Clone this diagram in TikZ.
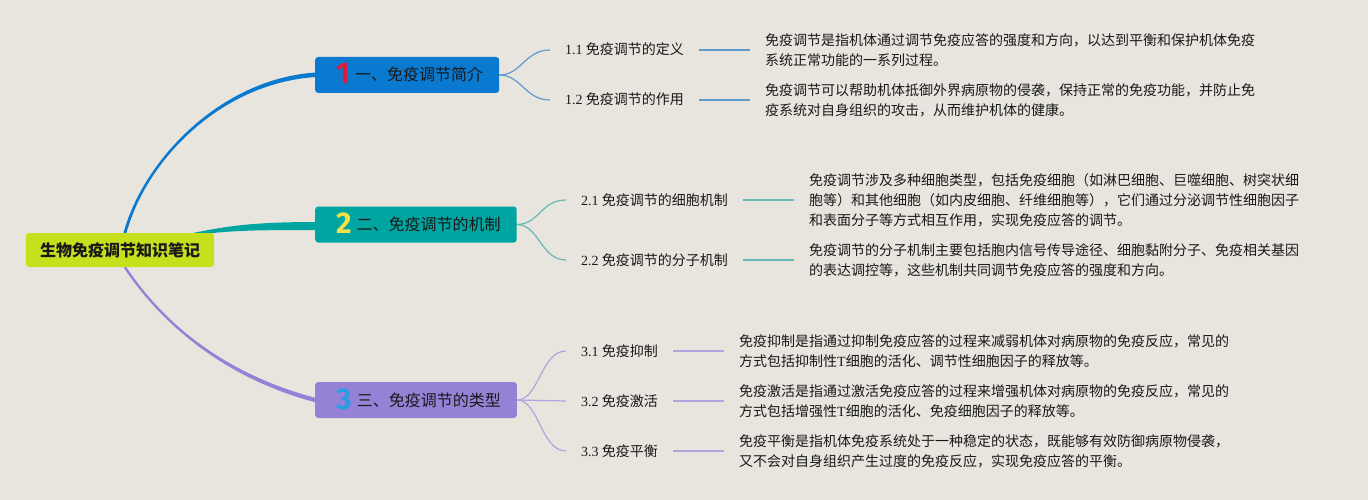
\documentclass[tikz,border=0pt]{standalone}
\usepackage{fontspec}
\setmainfont{Liberation Serif}
\newfontfamily\cjk{Noto Sans CJK SC}
\newfontfamily\numfont{Fira Sans}
\usetikzlibrary{positioning, calc}
\definecolor{paper}{RGB}{232,229,222}
\definecolor{rootgreen}{RGB}{198,224,30}
\definecolor{topicblue}{RGB}{10,122,208}
\definecolor{topicteal}{RGB}{0,164,160}
\definecolor{topicpurple}{RGB}{149,130,214}
\definecolor{subblue}{RGB}{95,155,205}
\definecolor{subteal}{RGB}{100,185,180}
\definecolor{subpurple}{RGB}{175,165,220}
\definecolor{numred}{RGB}{216,30,60}
\definecolor{numyellow}{RGB}{242,226,74}
\definecolor{numblue}{RGB}{40,158,226}
\definecolor{ink}{RGB}{25,25,25}
\pgfdeclarelayer{back}
\pgfdeclarelayer{lines}
\pgfsetlayers{back,lines,main}
\newcommand\bignum[2]{\hspace{5pt}\raisebox{-3pt}{\numfont\bfseries\fontsize{30}{30}\selectfont\color{#1}#2}\hspace{5pt}}

\begin{document}
\begin{tikzpicture}[
    x=1pt, y=-1pt,
    rootbox/.style={rectangle, rounded corners=3pt, fill=rootgreen, inner xsep=14pt, minimum height=34pt, text=ink, font=\cjk\bfseries\fontsize{16}{20}\selectfont},
    topicbox/.style={rectangle, rounded corners=3pt, anchor=west, inner xsep=16pt, minimum height=36pt, text height=14pt, text depth=2pt, text=ink, font=\cjk\fontsize{16}{20}\selectfont},
    sublabel/.style={anchor=west, inner xsep=15pt, inner ysep=0pt, text height=12pt, text depth=2pt, text=ink, font=\cjk\fontsize{14}{20}\selectfont},
    desctext/.style={inner xsep=15pt, align=left, text=ink, font=\cjk\fontsize{14}{20}\selectfont},
    subbranch/.style={line width=1.2pt},
    leafline/.style={line width=2pt}
]
\useasboundingbox (0,0) rectangle (1368,500);
\begin{pgfonlayer}{back}
\fill[paper] (0,0) rectangle (1368,500);
\end{pgfonlayer}

% root and main topics
\node[rootbox] (root) at (120,250) {生物免疫调节知识笔记};
\node[topicbox, fill=topicblue] (t1) at (315,75) {\bignum{numred}{1}一、免疫调节简介};
\node[topicbox, fill=topicteal] (t2) at (315,224.5) {\bignum{numyellow}{2}二、免疫调节的机制};
\node[topicbox, fill=topicpurple] (t3) at (315,400) {\bignum{numblue}{3}三、免疫调节的类型};

% sub topics
\node[sublabel] (s11) at (550,50) {\textrm{1.1} 免疫调节的定义};
\node[sublabel] (s12) at (550,100) {\textrm{1.2} 免疫调节的作用};
\node[sublabel] (s21) at (566,200) {\textrm{2.1} 免疫调节的细胞机制};
\node[sublabel] (s22) at (566,260) {\textrm{2.2} 免疫调节的分子机制};
\node[sublabel] (s31) at (566,351) {\textrm{3.1} 免疫抑制};
\node[sublabel] (s32) at (566,401) {\textrm{3.2} 免疫激活};
\node[sublabel] (s33) at (566,451) {\textrm{3.3} 免疫平衡};

% descriptions
\node[desctext, right=51pt of s11] (d11) {免疫调节是指机体通过调节免疫应答的强度和方向，以达到平衡和保护机体免疫\\系统正常功能的一系列过程。};
\node[desctext, right=51pt of s12] (d12) {免疫调节可以帮助机体抵御外界病原物的侵袭，保持正常的免疫功能，并防止免\\疫系统对自身组织的攻击，从而维护机体的健康。};
\node[desctext, right=51pt of s21] (d21) {免疫调节涉及多种细胞类型，包括免疫细胞（如淋巴细胞、巨噬细胞、树突状细\\胞等）和其他细胞（如内皮细胞、纤维细胞等），它们通过分泌调节性细胞因子\\和表面分子等方式相互作用，实现免疫应答的调节。};
\node[desctext, right=51pt of s22] (d22) {免疫调节的分子机制主要包括胞内信号传导途径、细胞黏附分子、免疫相关基因\\的表达调控等，这些机制共同调节免疫应答的强度和方向。};
\node[desctext, right=51pt of s31] (d31) {免疫抑制是指通过抑制免疫应答的过程来减弱机体对病原物的免疫反应，常见的\\方式包括抑制性\textrm{T}细胞的活化、调节性细胞因子的释放等。};
\node[desctext, right=51pt of s32] (d32) {免疫激活是指通过激活免疫应答的过程来增强机体对病原物的免疫反应，常见的\\方式包括增强性\textrm{T}细胞的活化、免疫细胞因子的释放等。};
\node[desctext, right=51pt of s33] (d33) {免疫平衡是指机体免疫系统处于一种稳定的状态，既能够有效防御病原物侵袭，\\又不会对自身组织产生过度的免疫反应，实现免疫应答的平衡。};

\begin{pgfonlayer}{lines}
% main branches, tapered
\fill[topicblue] ($(root.north)+(3.5,0)$) .. controls +(20,-73) and +(-95,6) .. ($(t1.west)+(1,-2.5)$)
    -- ($(t1.west)+(1,2)$) .. controls +(-95,6) and +(20,-73) .. ($(root.north)+(6.5,0)$) -- cycle;
\fill[topicteal] ($(root.north east)+(-49.5,6)$) .. controls +(50,-10) and +(-80,0) .. ($(t2.west)+(1,-2.5)$)
    -- ($(t2.west)+(1,5.5)$) .. controls +(-80,0) and +(50,-10) .. ($(root.north east)+(-49.5,8)$) -- cycle;
\fill[topicpurple] ($(root.south)+(3.5,0)$) .. controls +(35,53) and +(-95,-25) .. ($(t3.west)+(1,2.5)$)
    -- ($(t3.west)+(1,-2)$) .. controls +(-95,-25) and +(35,53) .. ($(root.south)+(6.5,0)$) -- cycle;

% sub branches
\draw[subbranch, subblue] (t1.east) .. controls +(22,0) and +(-25,0) .. (s11.west);
\draw[subbranch, subblue] (t1.east) .. controls +(22,0) and +(-25,0) .. (s12.west);
\draw[subbranch, subteal] (t2.east) .. controls +(22,0) and +(-25,0) .. (s21.west);
\draw[subbranch, subteal] (t2.east) .. controls +(22,0) and +(-25,0) .. (s22.west);
\draw[subbranch, subpurple] (t3.east) .. controls +(22,0) and +(-25,0) .. (s31.west);
\draw[subbranch, subpurple] (t3.east) -- (s32.west);
\draw[subbranch, subpurple] (t3.east) .. controls +(22,0) and +(-25,0) .. (s33.west);

% leaf lines
\draw[leafline, subblue] (s11) -- (d11);
\draw[leafline, subblue] (s12) -- (d12);
\draw[leafline, subteal] (s21) -- (d21);
\draw[leafline, subteal] (s22) -- (d22);
\draw[leafline, subpurple] (s31) -- (d31);
\draw[leafline, subpurple] (s32) -- (d32);
\draw[leafline, subpurple] (s33) -- (d33);
\end{pgfonlayer}
\end{tikzpicture}
\end{document}
